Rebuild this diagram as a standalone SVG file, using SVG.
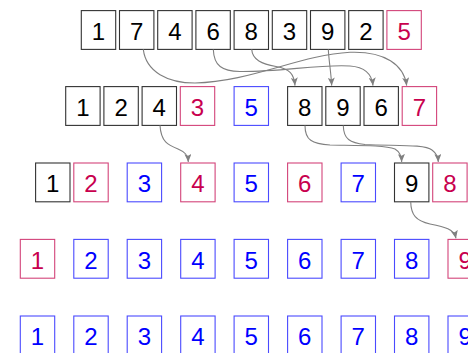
<svg xmlns="http://www.w3.org/2000/svg" width="468" height="353" viewBox="0 0 468 353">
<style>
rect{fill:#fff;stroke-width:1.1}
.k rect{stroke:#333}
.r rect{stroke:#d3447a}
.b rect{stroke:#4a4aff}
text{font-family:"Liberation Sans","DejaVu Sans",sans-serif;font-size:24px;text-anchor:middle}
.k text{fill:#000}
.r text{fill:#c8004e}
.b text{fill:#0000ff}
.c path{fill:none;stroke:#808080;stroke-width:1.1;marker-end:url(#ah)}
</style>
<defs>
<marker id="ah" viewBox="0 0 8 7" refX="8" refY="3.5" markerWidth="8" markerHeight="7" markerUnits="userSpaceOnUse" orient="auto">
<path d="M0,0 L8,3.5 L0,7 L1.8,3.5 Z" fill="#808080" stroke="none"/>
</marker>
</defs>
<!-- row 1 -->
<g id="r1n1" class="k"><rect x="81.3" y="10.6" width="34.4" height="38.8"/><text x="98.5" y="40">1</text></g>
<g id="r1n2" class="k"><rect x="119.5" y="10.6" width="34.4" height="38.8"/><text x="136.7" y="40">7</text></g>
<g id="r1n3" class="k"><rect x="157.7" y="10.6" width="34.4" height="38.8"/><text x="174.9" y="40">4</text></g>
<g id="r1n4" class="k"><rect x="195.9" y="10.6" width="34.4" height="38.8"/><text x="213.1" y="40">6</text></g>
<g id="r1n5" class="k"><rect x="234.1" y="10.6" width="34.4" height="38.8"/><text x="251.3" y="40">8</text></g>
<g id="r1n6" class="k"><rect x="272.3" y="10.6" width="34.4" height="38.8"/><text x="289.5" y="40">3</text></g>
<g id="r1n7" class="k"><rect x="310.5" y="10.6" width="34.4" height="38.8"/><text x="327.7" y="40">9</text></g>
<g id="r1n8" class="k"><rect x="348.7" y="10.6" width="34.4" height="38.8"/><text x="365.9" y="40">2</text></g>
<g id="r1n9" class="r"><rect x="386.9" y="10.6" width="34.4" height="38.8"/><text x="404.1" y="40">5</text></g>
<!-- row 2 -->
<g id="r2n1" class="k"><rect x="65.7" y="86.6" width="34.4" height="38.8"/><text x="82.9" y="116">1</text></g>
<g id="r2n2" class="k"><rect x="103.9" y="86.6" width="34.4" height="38.8"/><text x="121.1" y="116">2</text></g>
<g id="r2n3" class="k"><rect x="142.1" y="86.6" width="34.4" height="38.8"/><text x="159.3" y="116">4</text></g>
<g id="r2n4" class="r"><rect x="180.3" y="86.6" width="34.4" height="38.8"/><text x="197.5" y="116">3</text></g>
<g id="r2n5" class="b"><rect x="234.1" y="86.6" width="34.4" height="38.8"/><text x="251.3" y="116">5</text></g>
<g id="r2n6" class="k"><rect x="287.6" y="86.6" width="34.4" height="38.8"/><text x="304.8" y="116">8</text></g>
<g id="r2n7" class="k"><rect x="325.8" y="86.6" width="34.4" height="38.8"/><text x="343" y="116">9</text></g>
<g id="r2n8" class="k"><rect x="364" y="86.6" width="34.4" height="38.8"/><text x="381.2" y="116">6</text></g>
<g id="r2n9" class="r"><rect x="402.2" y="86.6" width="34.4" height="38.8"/><text x="419.4" y="116">7</text></g>
<!-- row 3 -->
<g id="r3n1" class="k"><rect x="35.6" y="163" width="34.4" height="38.8"/><text x="52.8" y="192.4">1</text></g>
<g id="r3n2" class="r"><rect x="73.8" y="163" width="34.4" height="38.8"/><text x="91" y="192.4">2</text></g>
<g id="r3n3" class="b"><rect x="127.2" y="163" width="34.4" height="38.8"/><text x="144.4" y="192.4">3</text></g>
<g id="r3n4" class="r"><rect x="180.7" y="163" width="34.4" height="38.8"/><text x="197.9" y="192.4">4</text></g>
<g id="r3n5" class="b"><rect x="234.1" y="163" width="34.4" height="38.8"/><text x="251.3" y="192.4">5</text></g>
<g id="r3n6" class="r"><rect x="287.6" y="163" width="34.4" height="38.8"/><text x="304.8" y="192.4">6</text></g>
<g id="r3n7" class="b"><rect x="341.1" y="163" width="34.4" height="38.8"/><text x="358.3" y="192.4">7</text></g>
<g id="r3n8" class="k"><rect x="394.5" y="163" width="34.4" height="38.8"/><text x="411.7" y="192.4">9</text></g>
<g id="r3n9" class="r"><rect x="432.7" y="163" width="34.4" height="38.8"/><text x="449.9" y="192.4">8</text></g>
<!-- row 4 -->
<g id="r4n1" class="r"><rect x="20.3" y="239.4" width="34.4" height="38.8"/><text x="37.5" y="268.8">1</text></g>
<g id="r4n2" class="b"><rect x="73.8" y="239.4" width="34.4" height="38.8"/><text x="91" y="268.8">2</text></g>
<g id="r4n3" class="b"><rect x="127.2" y="239.4" width="34.4" height="38.8"/><text x="144.4" y="268.8">3</text></g>
<g id="r4n4" class="b"><rect x="180.7" y="239.4" width="34.4" height="38.8"/><text x="197.9" y="268.8">4</text></g>
<g id="r4n5" class="b"><rect x="234.1" y="239.4" width="34.4" height="38.8"/><text x="251.3" y="268.8">5</text></g>
<g id="r4n6" class="b"><rect x="287.6" y="239.4" width="34.4" height="38.8"/><text x="304.8" y="268.8">6</text></g>
<g id="r4n7" class="b"><rect x="341.1" y="239.4" width="34.4" height="38.8"/><text x="358.3" y="268.8">7</text></g>
<g id="r4n8" class="b"><rect x="394.5" y="239.4" width="34.4" height="38.8"/><text x="411.7" y="268.8">8</text></g>
<g id="r4n9" class="r"><rect x="448" y="239.4" width="34.4" height="38.8"/><text x="465.2" y="268.8">9</text></g>
<!-- row 5 -->
<g id="r5n1" class="b"><rect x="20.3" y="316" width="34.4" height="38.8"/><text x="37.5" y="345.4">1</text></g>
<g id="r5n2" class="b"><rect x="73.8" y="316" width="34.4" height="38.8"/><text x="91" y="345.4">2</text></g>
<g id="r5n3" class="b"><rect x="127.2" y="316" width="34.4" height="38.8"/><text x="144.4" y="345.4">3</text></g>
<g id="r5n4" class="b"><rect x="180.7" y="316" width="34.4" height="38.8"/><text x="197.9" y="345.4">4</text></g>
<g id="r5n5" class="b"><rect x="234.1" y="316" width="34.4" height="38.8"/><text x="251.3" y="345.4">5</text></g>
<g id="r5n6" class="b"><rect x="287.6" y="316" width="34.4" height="38.8"/><text x="304.8" y="345.4">6</text></g>
<g id="r5n7" class="b"><rect x="341.1" y="316" width="34.4" height="38.8"/><text x="358.3" y="345.4">7</text></g>
<g id="r5n8" class="b"><rect x="394.5" y="316" width="34.4" height="38.8"/><text x="411.7" y="345.4">8</text></g>
<g id="r5n9" class="b"><rect x="448" y="316" width="34.4" height="38.8"/><text x="465.2" y="345.4">9</text></g>
<!-- connectors -->
<g id="connectors" class="c">
<path d="M143.3,49.4 C146,72 168,83 195,83 C250,82 300,55 350,52.3 C385,51 404,65 406.7,85.6"/>
<path d="M213.3,49.4 C214,66 222,71 240,71.5 C280,72 320,64 350,66 C365,67 372,75 373,85.6"/>
<path d="M251.7,49.4 C252.5,60 262,64 276,66.5 C290,69 294,74 295,85.6"/>
<path d="M328.3,49.4 C329,62 331,72 331.7,85.6"/>
<path d="M160,125.4 C161,142 168,145 178,149 C185,152 188,155 188.3,162"/>
<path d="M305,125.4 C305,140 312,144 330,145 C360,145.5 385,145 395,149 C400,152 401.5,156 401.7,162"/>
<path d="M343.3,125.4 C343.5,139 350,143 365,144.5 C395,146 425,144 432,150 C436,153 438,156 438.3,162"/>
<path d="M410.7,201.8 C411,215 416,221 430,224 C445,227 454,229 456,238.4"/>
</g>
</svg>
